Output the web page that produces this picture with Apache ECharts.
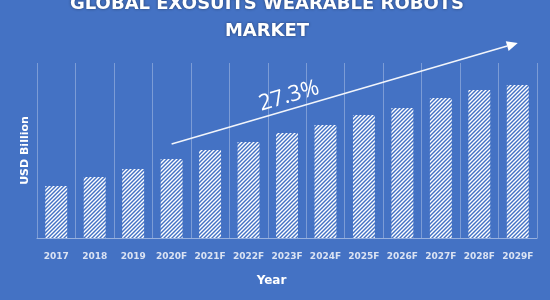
<!DOCTYPE html>
<html><head><meta charset="utf-8">
<script src="https://cdn.jsdelivr.net/npm/echarts@6/dist/echarts.min.js"></script>
<style>html,body{margin:0;padding:0;background:#4472C4;}#c{width:550px;height:300px;}</style>
</head><body><div id="c"></div>
<script>
const categories = ['2017','2018','2019','2020F','2021F','2022F','2023F','2024F','2025F','2026F','2027F','2028F','2029F'];
const marketValues = [52, 61, 69, 79, 88, 96, 105, 113, 123, 130, 140, 148, 153];
const cagrText = '27.3%';
const arrowStart = ['2020F', 94];
const arrowEnd = ['2029F', 195];

function hatch(){
  const c = document.createElement('canvas');
  c.width = 4; c.height = 4;
  const g = c.getContext('2d');
  g.fillStyle = '#4472C4'; g.fillRect(0,0,4,4);
  g.strokeStyle = '#ffffff'; g.lineWidth = 1.4;
  g.beginPath();
  g.moveTo(-1,5); g.lineTo(5,-1);
  g.moveTo(-1,1); g.lineTo(1,-1);
  g.moveTo(3,5); g.lineTo(5,3);
  g.stroke();
  return c;
}

const chart = echarts.init(document.getElementById('c'), null, {renderer:'canvas'});
chart.setOption({
  backgroundColor: '#4472C4',
  animation: false,
  title: {
    text: 'GLOBAL EXOSUITS WEARABLE ROBOTS\nMARKET',
    left: 262, textAlign: 'center', top: -14,
    textStyle: {color:'#fff', fontFamily:'DejaVu Sans', fontWeight:'bold', fontSize:18, lineHeight:27,
      textShadowColor:'rgba(0,0,0,0.45)', textShadowBlur:3}
  },
  grid: {left: 37, right: 13, top: 63, bottom: 62},
  xAxis: {
    type:'category', data: categories,
    axisLine:{show:true, lineStyle:{color:'rgba(255,255,255,0.45)', width:1}},
    axisTick:{show:false},
    splitLine:{show:true, lineStyle:{color:'rgba(255,255,255,0.3)', width:1}},
    axisLabel:{color:'#dbe3f3', fontFamily:'DejaVu Sans', fontWeight:'bold', fontSize:9, margin:14, interval:0},
    name:'Year', nameLocation:'middle', nameGap:37,
    nameTextStyle:{color:'#fff', fontFamily:'DejaVu Sans', fontWeight:'bold', fontSize:12, padding:[0,31,0,0]}
  },
  yAxis: {
    type:'value', min:0, max:175,
    axisLine:{show:false}, axisTick:{show:false}, axisLabel:{show:false}, splitLine:{show:false},
    name:'USD Billion', nameLocation:'middle', nameGap:6,
    nameTextStyle:{color:'#fff', fontFamily:'DejaVu Sans', fontWeight:'bold', fontSize:11}
  },
  series: [{
    type:'bar', data: marketValues, barWidth:'57%',
    itemStyle:{color:{image: hatch(), repeat:'repeat'}}
  }]
});

const p0 = chart.convertToPixel({gridIndex:0}, arrowStart);
const p1 = chart.convertToPixel({gridIndex:0}, arrowEnd);
const ang = Math.atan2(p1[1]-p0[1], p1[0]-p0[0]);
const ah = 11, aw = 5;
const bx = p1[0] - ah*Math.cos(ang), by = p1[1] - ah*Math.sin(ang);
chart.setOption({
  graphic: [
    {type:'line', shape:{x1:p0[0], y1:p0[1], x2:bx, y2:by}, style:{stroke:'#f2f5fb', lineWidth:1.5}, z:10},
    {type:'polygon', shape:{points:[[p1[0],p1[1]],[bx + aw*Math.sin(ang), by - aw*Math.cos(ang)],[bx - aw*Math.sin(ang), by + aw*Math.cos(ang)]]}, style:{fill:'#fff'}, z:10},
    {type:'text', x:289, y:96, rotation:-ang,
     style:{text:cagrText, fill:'#fff', font:'22px "Open Sans"', align:'center', verticalAlign:'middle'}, z:10}
  ]
});
</script>
</body></html>
